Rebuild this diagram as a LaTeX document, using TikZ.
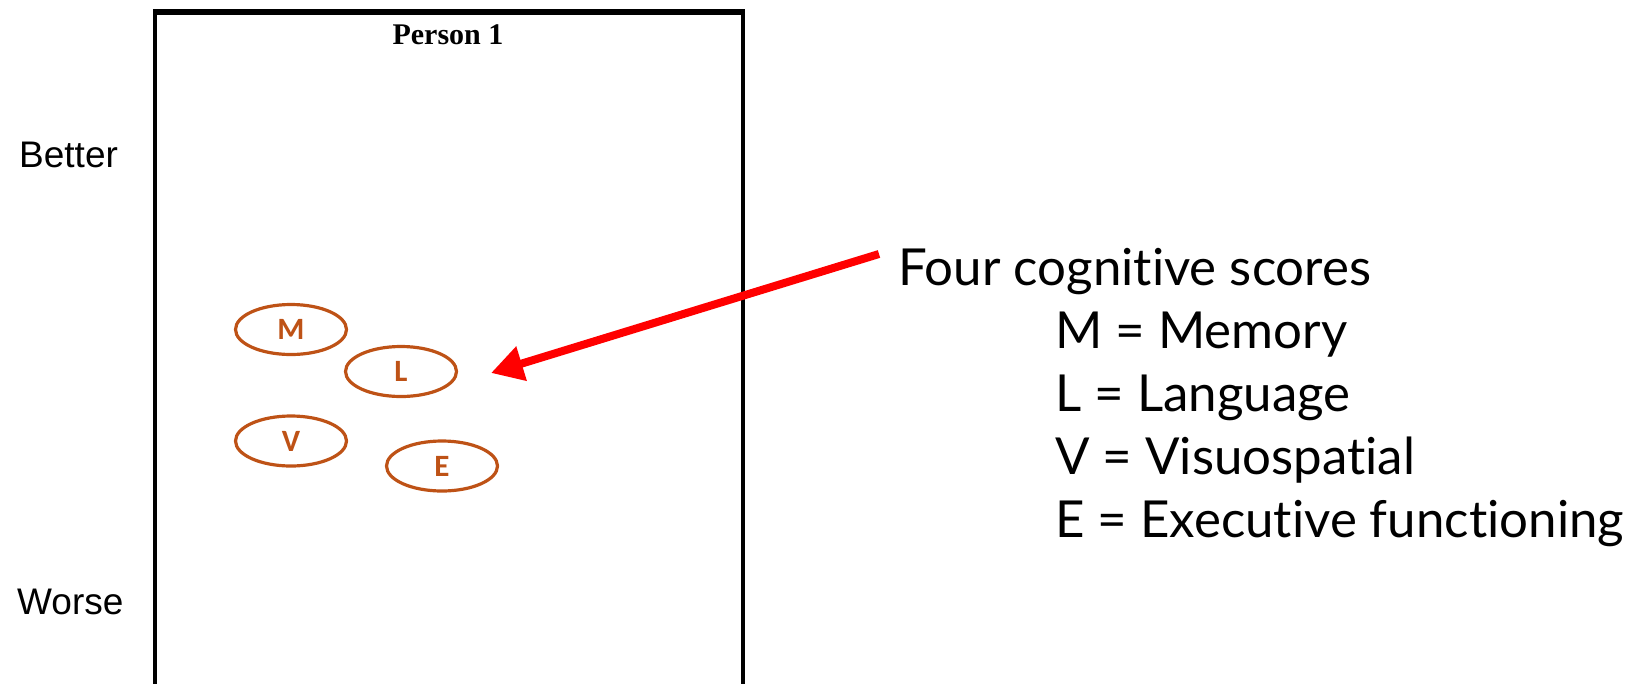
\documentclass[tikz,border=0pt]{standalone}
\usepackage{fontspec}
\setmainfont{Liberation Serif}
\newfontfamily\arialf{Liberation Sans}
\newfontfamily\rightf[Ligatures={NoCommon,NoContextual}]{Lato}
\newfontfamily\letf{Carlito}
\usetikzlibrary{arrows.meta,shapes.geometric}
\definecolor{rust}{RGB}{190,82,22}
\tikzset{
  score/.style={draw=rust, line width=3.2pt, ellipse, minimum width=111pt, minimum height=50pt, inner sep=0pt,
    text=rust, font=\letf\bfseries\fontsize{31}{31}\selectfont},
  side/.style={anchor=base west, inner sep=0pt, font=\arialf\fontsize{37}{37}\selectfont},
  legend/.style={anchor=base west, inner sep=0pt, font=\rightf\fontsize{51}{51}\selectfont},
}
\begin{document}
\begin{tikzpicture}[x=1pt,y=-1pt]
\useasboundingbox (0,0) rectangle (1627,683);
% frame
\draw[line width=4.5pt] (155,690) -- (155,12.5);
\draw[line width=4.5pt] (743,690) -- (743,12.5);
\draw[line width=5.5pt] (152.75,12) -- (745.25,12);
\node[font=\bfseries\fontsize{30}{30}\selectfont, anchor=base, inner sep=0pt] (title) at (448,44) {Person 1};
% side labels
\node[side] (better) at (19,167) {Better};
\node[side] (worse) at (17,614) {Worse};
% scores
\node[score] (M) at (291,329.5) {M};
\node[score] (L) at (401,371.5) {L};
\node[score] (V) at (291,441) {V};
\node[score] (E) at (442,466) {E};
% legend
\node[legend] (four) at (898,285) {Four cognitive scores};
\node[legend] (lm) at (1055,348) {M = Memory};
\node[legend] (ll) at (1055,411) {L = Language};
\node[legend] (lv) at (1055,474) {V = Visuospatial};
\node[legend] (le) at (1055,537) {E = Executive functioning};
% arrow
\coordinate (tail) at (879,254);
\coordinate (tip) at (491,373);
\draw[red, line width=8pt, -{Triangle[length=32pt,width=34pt]}] (tail) -- (tip);
\end{tikzpicture}
\end{document}
